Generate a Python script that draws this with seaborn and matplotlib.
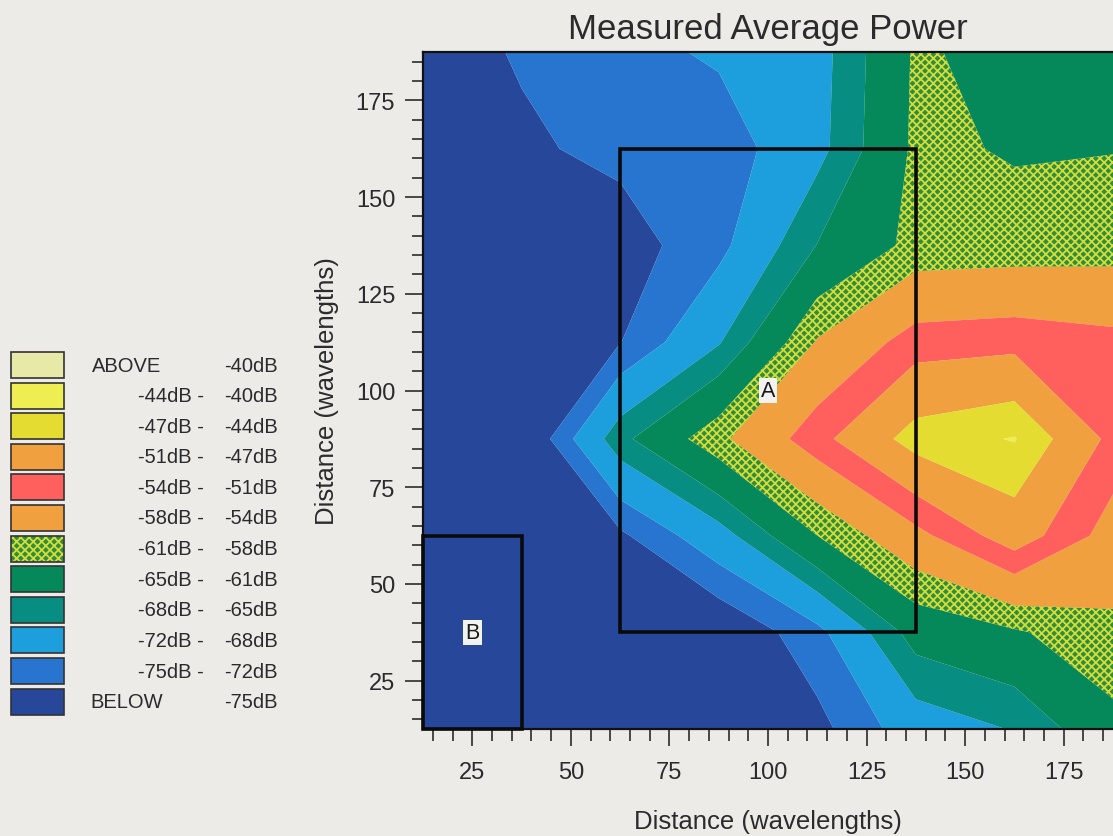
import numpy as np
import matplotlib
matplotlib.use("Agg")
import matplotlib.pyplot as plt
from matplotlib.patches import Rectangle
import seaborn as sns

# ---------------- data ----------------
# measurement grid (wavelengths)
x_pos = [12.5, 37.5, 62.5, 87.5, 112.5, 137.5, 162.5, 187.5]
y_pos = [12.5, 37.5, 62.5, 87.5, 112.5, 137.5, 162.5, 187.5]

# measured average power (dB), one list per grid row (bottom -> top)
power_y012 = [-81.0, -81.0, -80.5, -80.0, -76.0, -70.0, -67.8, -62.0]
power_y037 = [-81.0, -80.0, -80.0, -78.0, -73.0, -63.5, -61.4, -58.8]
power_y062 = [-80.0, -79.0, -75.6, -69.5, -61.0, -55.0, -49.1, -55.5]
power_y087 = [-80.0, -78.7, -65.9, -58.8, -52.1, -45.5, -43.8, -52.0]
power_y112 = [-79.0, -78.0, -75.1, -68.3, -57.7, -52.5, -52.0, -53.0]
power_y137 = [-78.0, -77.0, -76.5, -73.0, -64.9, -60.0, -59.7, -59.4]
power_y162 = [-77.0, -75.5, -74.2, -73.9, -69.1, -60.3, -61.3, -61.1]
power_y187 = [-76.5, -74.7, -73.1, -71.5, -69.4, -60.5, -62.3, -63.0]

# contour levels (dB) and fill colours, lowest band first
levels = [-100, -75, -72, -68, -65, -61, -58, -54, -51, -47, -44, -40, 0]
band_colors = ["#27489a", "#2775cf", "#1c9fdc", "#078d82", "#06895a",
               "#2f8c3c", "#f0a03e", "#ff5f5d", "#f0a03e", "#e4dc30",
               "#eeee52", "#e6eaa6"]
hatched_band = 5  # -61dB .. -58dB
hatch_color = "#d4dc3a"

# legend text (top -> bottom)
legend_left = ["ABOVE", "-44dB -", "-47dB -", "-51dB -", "-54dB -", "-58dB -",
               "-61dB -", "-65dB -", "-68dB -", "-72dB -", "-75dB -", "BELOW"]
legend_right = ["-40dB", "-40dB", "-44dB", "-47dB", "-51dB", "-54dB",
                "-58dB", "-61dB", "-65dB", "-68dB", "-72dB", "-75dB"]

# marked regions: name, (x0, y0, width, height), label position
region_names = ["A", "B"]
region_boxes = [(62.5, 37.5, 75.0, 125.0), (12.5, 12.5, 25.0, 50.0)]
region_label_xy = [(100.0, 100.0), (25.0, 37.5)]

# ---------------- style ----------------
sns.set_theme(style="ticks")
bg = "#ecebe8"
txt = "#2b2b2b"
plt.rcParams["font.family"] = ["Liberation Sans", "DejaVu Sans"]
plt.rcParams["hatch.linewidth"] = 1.3
palette = sns.color_palette(band_colors)

fig = plt.figure(figsize=(11.13, 8.37), dpi=100, facecolor=bg)
ax = fig.add_axes([423 / 1113, 107 / 837, 690 / 1113, 677 / 837])
ax.set_facecolor(bg)

X, Y = np.meshgrid(np.array(x_pos), np.array(y_pos))
Z = np.array([power_y012, power_y037, power_y062, power_y087,
              power_y112, power_y137, power_y162, power_y187])

ax.contourf(X, Y, Z, levels=levels, colors=palette, antialiased=True)
# cross-hatch texture of the -61..-58 dB band
hs = ax.contourf(X, Y, Z, levels=levels[hatched_band:hatched_band + 2],
                 colors="none", hatches=["xxxx"])
hs.set_edgecolor(hatch_color)
hs.set_linewidth(0)

# boxes A and B
for name, (x0, y0, w, h), (lx, ly) in zip(region_names, region_boxes, region_label_xy):
    ax.add_patch(Rectangle((x0, y0), w, h, fill=False, edgecolor="#0a0a0a",
                           linewidth=2.6, zorder=5, clip_on=False))
    ax.text(lx, ly, name, ha="center", va="center", fontsize=15.5, color="#1a1a1a",
            zorder=6, bbox=dict(boxstyle="square,pad=0.1", facecolor="#f2f2f0",
                                edgecolor="none"))

ax.set_xlim(12.5, 187.5)
ax.set_ylim(12.5, 187.5)
ax.set_xticks([25, 50, 75, 100, 125, 150, 175])
ax.set_yticks([25, 50, 75, 100, 125, 150, 175])
ax.set_xticks(np.arange(15, 188, 5), minor=True)
ax.set_yticks(np.arange(15, 188, 5), minor=True)
ax.tick_params(axis="x", which="major", length=12, width=1.2, pad=11,
               labelsize=17, colors=txt, direction="out")
ax.tick_params(axis="x", which="minor", length=8.5, width=1.2, direction="out", colors=txt)
ax.tick_params(axis="y", which="major", length=13, width=1.2, pad=7,
               labelsize=17, colors=txt, direction="out")
ax.tick_params(axis="y", which="minor", length=8, width=1.2, direction="out", colors=txt)

for side in ["left", "bottom", "top"]:
    ax.spines[side].set_linewidth(1.6)
    ax.spines[side].set_color("#111111")
sns.despine(ax=ax, top=False, right=True)

ax.set_xlabel("Distance (wavelengths)", fontsize=18.5, color=txt, labelpad=19)
ax.set_ylabel("Distance (wavelengths)", fontsize=18.5, color=txt, labelpad=12)
ax.set_title("Measured Average Power", fontsize=25, color=txt, pad=10)

# ---------------- legend (pixel coordinates) ----------------
lax = fig.add_axes([0, 0, 1, 1], zorder=-1)
lax.set_xlim(0, 1113)
lax.set_ylim(837, 0)
lax.axis("off")
n = len(legend_left)
top, step, ph = 353.0, 30.6, 26.0
for i in range(n):
    band = len(band_colors) - 1 - i
    y0 = top + i * step
    if band == hatched_band:
        lax.add_patch(Rectangle((11, y0), 53, ph, facecolor=palette[band],
                                edgecolor=hatch_color, hatch="xxxx", linewidth=0))
    else:
        lax.add_patch(Rectangle((11, y0), 53, ph, facecolor=palette[band],
                                edgecolor="none"))
    lax.add_patch(Rectangle((11, y0), 53, ph, fill=False, edgecolor="#333333",
                            linewidth=1.2))
    yc = y0 + ph / 2
    if i == 0 or i == n - 1:
        lax.text(92 if i == 0 else 90, yc, legend_left[i], ha="left", va="center",
                 fontsize=14.5, color=txt)
    else:
        lax.text(204, yc, legend_left[i], ha="right", va="center",
                 fontsize=14.5, color=txt)
    lax.text(278, yc, legend_right[i], ha="right", va="center",
             fontsize=14.5, color=txt)

fig.savefig("out.png", dpi=100, facecolor=bg)
